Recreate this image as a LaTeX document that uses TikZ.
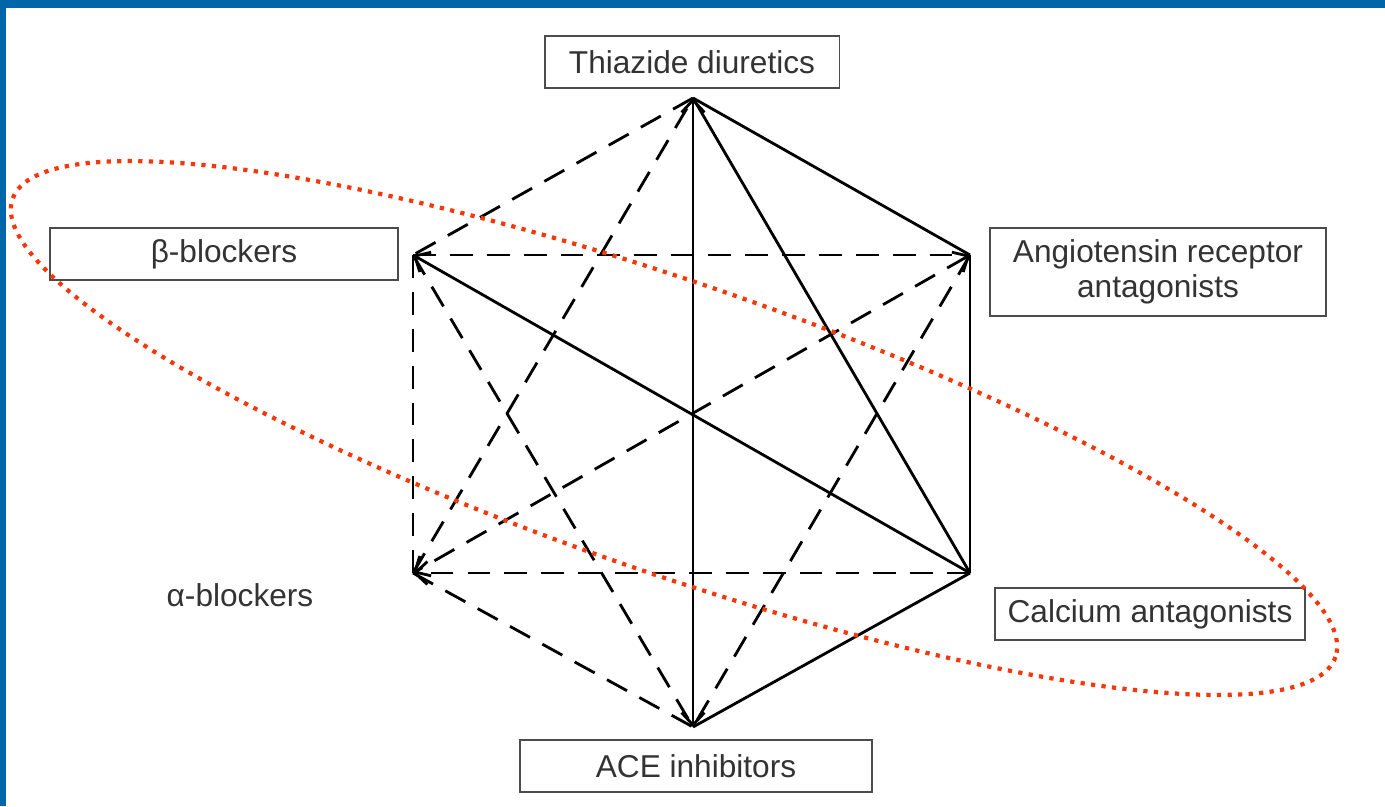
\documentclass[tikz,border=0pt]{standalone}
\usepackage{fontspec}
\setmainfont{Liberation Sans}
\usetikzlibrary{arrows.meta}
\definecolor{frameblue}{RGB}{0,102,170}
\definecolor{ovalred}{RGB}{245,55,10}

\begin{document}
\begin{tikzpicture}[x=0.02cm,y=-0.02cm,
  drug/.style={draw=black!70,line width=1.1pt,text=black!80,inner sep=0pt,minimum height=1.03cm,align=center,font=\fontsize{18}{20}\selectfont},
  solidlink/.style={line width=1.6pt},
  dashlink/.style={line width=1.6pt,dash pattern=on 13pt off 8pt},
  tip/.style={-{Straight Barb[length=7pt,width=13pt]}},
  bothtips/.style={{Straight Barb[length=7pt,width=13pt]}-{Straight Barb[length=7pt,width=13pt]}}]
\useasboundingbox (0,0) rectangle (1385,806);
\fill[white] (0,0) rectangle (1385,806);
\fill[frameblue] (0,0) rectangle (1385,8);
\fill[frameblue] (0,0) rectangle (6,806);

\node[drug,minimum width=5.9cm] (thiazide) at (692,62) {Thiazide diuretics};
\node[drug,minimum width=6.96cm] (beta) at (224,254) {β-blockers};
\node[drug,minimum width=6.72cm,minimum height=1.76cm] (arb) at (1158,272) {Angiotensin receptor\\antagonists};
\node[drug,minimum width=6.2cm] (calcium) at (1150,614) {Calcium antagonists};
\node[drug,minimum width=7.04cm] (ace) at (696,766) {ACE inhibitors};
\node[text=black!80,font=\fontsize{18}{20}\selectfont] (alpha) at (240,595) {α-blockers};

\coordinate (top) at (693,98);
\coordinate (ur) at (970,255);
\coordinate (lr) at (970,573);
\coordinate (bot) at (693,727);
\coordinate (ll) at (413,573);
\coordinate (ul) at (413,255);

% combinations
\draw[dashlink] (top) -- (ul);
\draw[dashlink] (ll) -- (top);
\draw[dashlink] (ul) -- (ur);
\draw[dashlink] (ul) -- (ll);
\draw[dashlink] (ul) -- (bot);
\draw[dashlink,bothtips] (ur) -- (ll);
\draw[dashlink] (ur) -- (bot);
\draw[dashlink,tip] (lr) -- (ll);
\draw[dashlink] (ll) -- (bot);
\draw[solidlink,bothtips] (top) -- (bot);
\draw[solidlink] (top) -- (ur);
\draw[solidlink] (top) -- (lr);
\draw[solidlink,tip] (lr) -- (ul);
\draw[solidlink] (ur) -- (lr);
\draw[solidlink] (lr) -- (bot);

\draw[ovalred,line width=2.4pt,dash pattern=on 2.4pt off 3.6pt] (674,428) [rotate around={-19.1:(674,428)}] ellipse [x radius=700,y radius=145];
\end{tikzpicture}
\end{document}
